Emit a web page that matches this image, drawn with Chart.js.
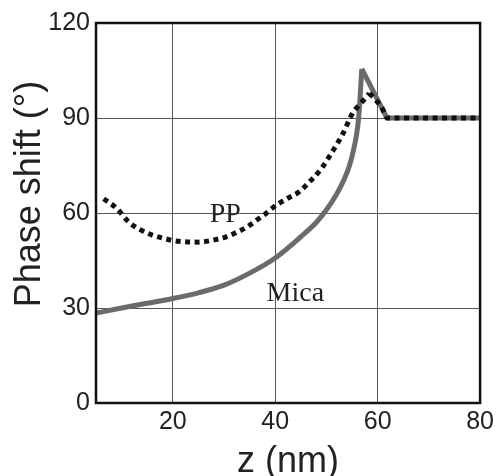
<!DOCTYPE html>
<html lang="en">
<head>
    <meta charset="UTF-8">
    <title>Phase shift vs z</title>
    <script src="https://cdn.jsdelivr.net/npm/chart.js"></script>
    <style>
        body {
            margin: 0;
            background-color: #ffffff;
        }
        #wrap {
            width: 498px;
            height: 476px;
        }
    </style>
</head>
<body>
    <div id="wrap"><canvas id="phaseChart" width="498" height="476"></canvas></div>
    <script>
        // Mica curve: z (nm), phase shift (deg) - smooth rise up to the peak
        const zMica = [5, 10, 15, 20, 25, 30, 35, 40, 45, 48, 50, 52, 53.4, 54.5, 55.3, 55.9, 56.3, 56.9];
        const micaPhase = [28.4, 30, 31.5, 33, 34.8, 37.2, 41, 45.8, 52.5, 57, 61, 66, 70.4, 75, 80, 85, 90.3, 105.5];
        // Mica: straight drop after the peak, then flat
        const zMicaDrop = [56.9, 61.8, 80];
        const micaDrop = [105.5, 90, 90];

        // PP curve
        const zPP = [6.5, 9, 11.5, 13.8, 16, 18.2, 20.5, 25, 28, 30.3, 32.6, 34.5, 36.4, 38.3, 40.2, 42.5, 44.6, 46.5, 49, 51, 53.2, 55.1, 56.9, 58.4];
        const ppPhase = [64.5, 61.5, 57, 54.6, 53, 52, 51.2, 50.8, 51.5, 52.4, 54, 55.6, 57.8, 60, 62.5, 64.7, 66.6, 69.5, 74, 79, 85, 91.5, 95, 97.8];
        const zPPDrop = [58.4, 59.7, 60.9, 61.9, 80];
        const ppDrop = [97.8, 95.6, 93, 90, 90];

        const xTicks = [20, 40, 60, 80];
        const yTicks = [0, 30, 60, 90, 120];

        // curve labels, placed in data coordinates
        const labels = [
            { text: 'PP', x: 27.2, y: 57.2 },
            { text: 'Mica', x: 38.3, y: 32.3 }
        ];

        const toPoints = (xs, ys) => xs.map((x, i) => ({ x: x, y: ys[i] }));

        // box around the plot + curve labels + y title
        const extras = {
            id: 'extras',
            afterDatasetsDraw(chart) {
                const { ctx, scales } = chart;
                ctx.save();
                ctx.fillStyle = '#222';
                ctx.font = '28px "Liberation Serif", "Times New Roman", serif';
                ctx.textAlign = 'left';
                ctx.textBaseline = 'alphabetic';
                labels.forEach(l => {
                    ctx.fillText(l.text, scales.x.getPixelForValue(l.x), scales.y.getPixelForValue(l.y));
                });
                ctx.restore();
            },
            afterDraw(chart) {
                const { ctx, chartArea: a } = chart;
                ctx.save();
                ctx.strokeStyle = '#111';
                ctx.lineWidth = 2.5;
                ctx.strokeRect(a.left, a.top, a.right - a.left, a.bottom - a.top);

                ctx.translate(30, 194);
                ctx.rotate(-Math.PI / 2);
                ctx.fillStyle = '#222';
                ctx.font = '36px "Liberation Sans", Arial, sans-serif';
                ctx.textAlign = 'center';
                ctx.textBaseline = 'middle';
                ctx.fillText('Phase shift (°)', 0, 0);
                ctx.restore();
            }
        };

        const micaStyle = { borderColor: '#6b6b6b', borderWidth: 5, pointRadius: 0, fill: false };
        const ppStyle = { borderColor: '#111', borderWidth: 5, borderDash: [5, 4.5], pointRadius: 0, fill: false };

        const ctx = document.getElementById('phaseChart').getContext('2d');
        const chart = new Chart(ctx, {
            type: 'line',
            data: {
                datasets: [
                    Object.assign({ label: 'PP', data: toPoints(zPP, ppPhase), cubicInterpolationMode: 'monotone' }, ppStyle),
                    Object.assign({ label: 'PP drop', data: toPoints(zPPDrop, ppDrop), cubicInterpolationMode: 'monotone' }, ppStyle),
                    Object.assign({ label: 'Mica', data: toPoints(zMica, micaPhase), cubicInterpolationMode: 'monotone' }, micaStyle),
                    Object.assign({ label: 'Mica drop', data: toPoints(zMicaDrop, micaDrop), tension: 0 }, micaStyle)
                ]
            },
            options: {
                responsive: false,
                animation: false,
                layout: {
                    padding: { top: 23, right: 13, left: 0, bottom: 0 }
                },
                plugins: {
                    legend: { display: false },
                    tooltip: { enabled: false }
                },
                scales: {
                    x: {
                        type: 'linear',
                        min: 5,
                        max: 80,
                        afterBuildTicks: (s) => { s.ticks = xTicks.map(v => ({ value: v })); },
                        afterFit: (s) => { s.height = 73; },
                        grid: { color: '#555', lineWidth: 1, drawTicks: false },
                        border: { display: false },
                        ticks: {
                            padding: 4,
                            color: '#222',
                            font: { family: '"Liberation Sans", Arial, sans-serif', size: 25 }
                        },
                        title: {
                            display: true,
                            text: 'z (nm)',
                            color: '#222',
                            padding: 0,
                            font: { family: '"Liberation Sans", Arial, sans-serif', size: 36, lineHeight: 0.75 }
                        }
                    },
                    y: {
                        type: 'linear',
                        min: 0,
                        max: 120,
                        afterBuildTicks: (s) => { s.ticks = yTicks.map(v => ({ value: v })); },
                        afterFit: (s) => { s.width = 96; },
                        grid: { color: '#555', lineWidth: 1, drawTicks: false },
                        border: { display: false },
                        ticks: {
                            padding: 6,
                            color: '#222',
                            font: { family: '"Liberation Sans", Arial, sans-serif', size: 25 }
                        }
                    }
                }
            },
            plugins: [extras]
        });
    </script>
</body>
</html>
